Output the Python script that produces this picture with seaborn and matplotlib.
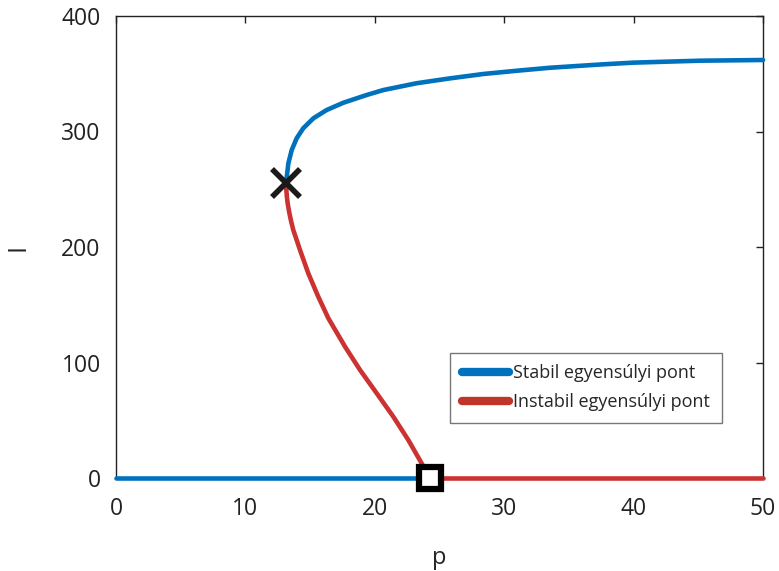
import numpy as np
import pandas as pd
import seaborn as sns
import matplotlib.pyplot as plt
from matplotlib.lines import Line2D

# Upper (stable) branch of the fold curve
p_stable = [13.14, 13.32, 13.58, 13.96, 14.47, 15.25, 16.28, 17.57, 19.37, 20.66,
            23.24, 25.81, 28.39, 30.97, 33.54, 37.40, 39.95, 45.13, 50.0]
I_stable = [255.2, 272.5, 284.0, 294.1, 302.8, 311.4, 318.6, 324.9, 331.6, 335.9,
            341.8, 346.0, 349.8, 352.6, 355.2, 358.0, 359.6, 361.3, 361.9]

# Lower (unstable) branch of the fold curve
p_unstable = [13.14, 13.16, 13.20, 13.27, 13.38, 13.51, 13.70, 13.96, 14.22, 14.86,
              15.63, 16.41, 17.70, 18.86, 20.15, 21.43, 22.59, 23.62, 24.27]
I_unstable = [255.2, 250.0, 244.0, 237.5, 230.5, 223.4, 214.7, 206.1, 197.4, 177.2,
              157.0, 138.3, 113.7, 93.5, 73.3, 53.1, 32.9, 12.7, 0]

# Trivial equilibrium I = 0
p_zero_stable = [0, 24.27]
p_zero_unstable = [24.27, 50]
I_zero = [0, 0]

# Special points
fold_point = (13.14, 255.2)
transcritical_point = (24.27, 0)

labels = ["Stabil egyensúlyi pont", "Instabil egyensúlyi pont"]
blue = "#0072BD"
red = "#CD3232"

sns.set_theme(style="white")
plt.rcParams['font.family'] = ['Open Sans', 'DejaVu Sans']

fig, ax = plt.subplots(figsize=(7.79, 5.71), dpi=100)
fig.subplots_adjust(left=116/779, right=763/779, top=1-16/571, bottom=1-478/571)

lw = 3.3
kw = dict(lw=lw, sort=False, estimator=None, solid_joinstyle='round')
sns.lineplot(x=p_zero_stable, y=I_zero, ax=ax, color=blue, **kw)
sns.lineplot(x=p_stable, y=I_stable, ax=ax, color=blue, **kw)
sns.lineplot(x=p_zero_unstable, y=I_zero, ax=ax, color=red, **kw)
sns.lineplot(x=p_unstable, y=I_unstable, ax=ax, color=red, **kw)
for line in ax.lines:
    line.set_clip_on(False)
    line.set_zorder(3)

ax.plot(*fold_point, marker='x', ms=20, mew=4, color='#1a1a1a', zorder=5)
ax.plot(*transcritical_point, marker='s', ms=16, mew=4.5, mfc='white',
        mec='black', zorder=5, clip_on=False)

ax.set_xlim(0, 50)
ax.set_ylim(0, 400)
ax.set_xticks([0, 10, 20, 30, 40, 50])
ax.set_yticks([0, 100, 200, 300, 400])
ax.tick_params(direction='in', length=5, width=1, top=True, right=True,
               labelsize=16.5, colors='#222222', pad=11)
ax.tick_params(axis='x', pad=14)
for s in ax.spines.values():
    s.set_color('#222222')
    s.set_linewidth(1)

ax.set_xlabel('p', fontsize=17, labelpad=18)
ax.set_ylabel('I', fontsize=18, labelpad=22)

handles = [Line2D([], [], color=blue, lw=6), Line2D([], [], color="#C0352B", lw=6)]
leg = ax.legend(handles, labels, loc='lower left', bbox_to_anchor=(0.516, 0.119),
                fontsize=13, frameon=True, fancybox=False, handlelength=2.6,
                handletextpad=0.25, borderpad=0.65, labelspacing=0.6,
                borderaxespad=0)
leg.get_frame().set_edgecolor('#555555')
leg.get_frame().set_linewidth(1)

fig.savefig('out.png', dpi=100)
